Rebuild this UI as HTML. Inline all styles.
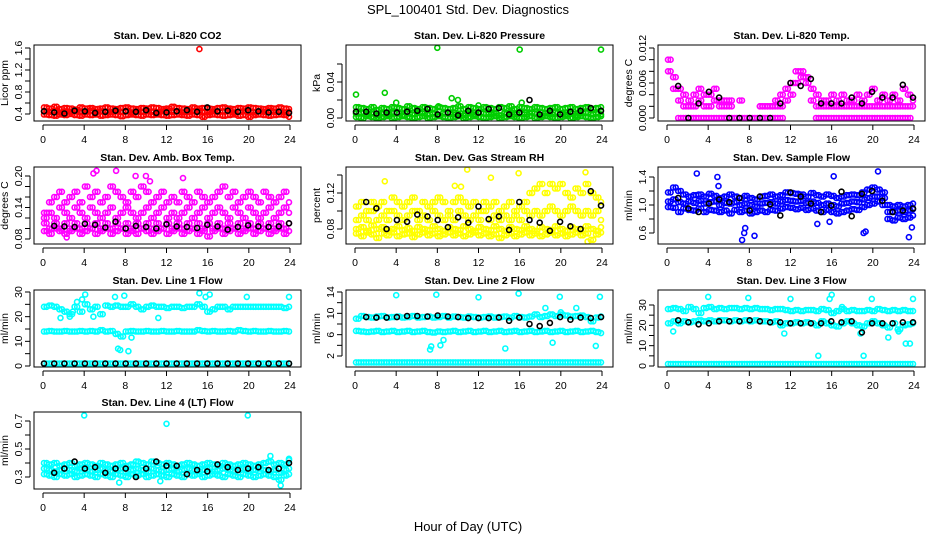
<!DOCTYPE html>
<html><head><meta charset="utf-8"><style>
html,body{margin:0;padding:0;background:#fff}
svg{display:block;font-family:"Liberation Sans",sans-serif}
</style></head><body>
<svg id="chart" width="936" height="540" viewBox="0 0 936 540" xmlns="http://www.w3.org/2000/svg">
<rect x="0" y="0" width="936" height="540" fill="#fff"/>
<text x="468" y="14" text-anchor="middle" font-size="13">SPL_100401  Std. Dev. Diagnostics</text>
<text x="468" y="531" text-anchor="middle" font-size="13">Hour of Day (UTC)</text>
</svg>
<script>
// ---------- data ----------
const xTicks = [0,4,8,12,16,20,24];
// CO2 (ppm)
const co2RedA = [0.52,0.50,0.53,0.49,0.51,0.50,0.48,0.52,0.50,0.51,0.49,0.50,0.52,0.50,0.49,0.51,0.52,0.50,0.49,0.51,0.50,0.52,0.51,0.49,0.50,0.53,0.51,0.50,0.49,0.52,0.50,0.51,0.50,0.49,0.51,0.52,0.50,0.49,0.51,0.50,0.52,0.51,0.50,0.49,0.51,0.50,0.52,0.50,0.49];
const co2RedB = [0.45,0.44,0.46,0.43,0.45,0.44,0.45,0.43,0.44,0.46,0.44,0.45,0.43,0.44,0.45,0.44,0.46,0.43,0.45,0.44,0.45,0.44,0.43,0.45,0.46,0.44,0.45,0.43,0.44,0.45,0.46,0.44,0.43,0.45,0.44,0.45,0.46,0.43,0.44,0.45,0.44,0.43,0.45,0.44,0.46,0.44,0.45,0.43,0.44];
const co2RedC = [0.39,0.38,0.37,0.39,0.38,0.40,0.38,0.37,0.39,0.38,0.39,0.37,0.38,0.39,0.38,0.36,0.38,0.39,0.38,0.37,0.39,0.38,0.39,0.38,0.37,0.38,0.39,0.38,0.37,0.39,0.38,0.35,0.38,0.39,0.38,0.37,0.38,0.39,0.37,0.38,0.35,0.38,0.39,0.38,0.37,0.38,0.39,0.38,0.35];
const co2Black = [0.45,0.43,0.41,0.46,0.45,0.42,0.44,0.46,0.45,0.44,0.47,0.42,0.43,0.45,0.47,0.44,0.52,0.45,0.46,0.44,0.47,0.45,0.43,0.44,0.42];
const co2OutHours = [15.2];
const co2OutVals = [1.58];
// Pressure (kPa)
const presGreenA = [0.012,0.011,0.010,0.012,0.009,0.011,0.010,0.012,0.011,0.010,0.013,0.011,0.010,0.012,0.011,0.010,0.012,0.011,0.010,0.011,0.013,0.010,0.012,0.011,0.010,0.012,0.011,0.010,0.012,0.011,0.013,0.010,0.012,0.011,0.010,0.012,0.011,0.010,0.011,0.012,0.010,0.011,0.012,0.010,0.011,0.012,0.010,0.011,0.012];
const presGreenB = [0.005,0.006,0.004,0.005,0.003,0.005,0.004,0.006,0.005,0.003,0.005,0.004,0.006,0.005,0.004,0.005,0.003,0.005,0.006,0.004,0.005,0.003,0.005,0.004,0.006,0.005,0.004,0.005,0.003,0.005,0.006,0.004,0.005,0.004,0.006,0.005,0.003,0.005,0.004,0.006,0.005,0.004,0.005,0.003,0.005,0.006,0.004,0.005,0.004];
const presGreenC = [0.001,0.000,0.002,0.001,0.000,0.001,0.002,0.000,0.001,0.002,0.001,0.000,0.001,0.002,0.000,0.001,0.002,0.001,0.000,0.001,0.002,0.000,0.001,0.002,0.001,0.000,0.001,0.002,0.000,0.001,0.002,0.001,0.000,0.001,0.002,0.000,0.001,0.002,0.001,0.000,0.001,0.002,0.000,0.001,0.002,0.001,0.000,0.001,0.002];
const presOutHours = [0.1,2.9,4.0,8.0,8.1,9.4,10.0,12.0,16.0,16.2,23.9];
const presOutVals = [0.026,0.028,0.017,0.078,0.013,0.022,0.020,0.014,0.076,0.017,0.076];
const presBlack = [0.007,0.007,0.005,0.006,0.006,0.007,0.008,0.010,0.004,0.006,0.003,0.008,0.006,0.010,0.011,0.004,0.006,0.020,0.004,0.008,0.004,0.007,0.008,0.011,0.008];
// Li-820 Temp (deg C)
const tempMagA = [0.010,0.007,0.005,0.004,0.003,0.004,0.005,0.004,0.004,0.005,0.003,0.003,0.003,null,0.003,null,null,null,0.002,0.002,0.002,0.003,0.004,0.005,0.006,0.008,0.008,0.007,0.005,0.004,0.003,0.003,0.004,0.003,0.004,0.003,0.003,0.004,0.003,0.004,0.005,0.003,0.004,0.003,0.004,0.003,0.005,0.004,0.003];
const tempMagB = [0.008,0.005,0.003,0.002,0.002,0.002,0.003,0.002,0.002,0.003,0.002,0.002,0.002,null,null,null,null,null,0.002,0.002,0.002,0.002,0.002,0.003,0.004,0.006,0.007,0.006,0.003,0.002,0.002,0.002,0.002,0.002,0.002,0.002,0.002,0.002,0.002,0.002,0.002,0.002,0.002,0.002,0.002,0.002,0.002,0.002,0.002];
const tempMagZ = [null,null,0,0,0,0,0,0,0,0,0,0,0,0,0,0,0,0,0,0,0,0,0,null,null,null,null,null,null,0,0,0,0,0,0,0,0,0,0,0,0,0,0,0,0,0,0,0,null];
const tempBlack = [null,0.0055,0,0.0025,0.0045,0.0035,0,0,0,0,0,0.0025,0.006,0.0055,0.0067,0.0025,0.0025,0.0025,0.0035,0.0025,0.0045,0.0035,0.0035,0.0057,0.0035];
// Amb. Box Temp (deg C)
const ambMagA = [0.13,0.15,0.16,0.17,0.15,0.16,0.17,0.15,0.18,0.16,0.17,0.15,0.16,0.18,0.17,0.16,0.15,0.17,0.16,0.18,0.17,0.15,0.16,0.17,0.15,0.16,0.15,0.17,0.16,0.15,0.17,0.16,0.15,0.16,0.17,0.18,0.16,0.17,0.15,0.16,0.17,0.16,0.15,0.17,0.16,0.15,0.16,0.17,0.15];
const ambMagB = [0.12,0.13,0.12,0.14,0.13,0.12,0.14,0.13,0.12,0.14,0.13,0.12,0.13,0.14,0.12,0.13,0.14,0.13,0.12,0.13,0.14,0.12,0.13,0.14,0.12,0.13,0.12,0.13,0.14,0.12,0.13,0.14,0.12,0.13,0.14,0.13,0.12,0.14,0.13,0.12,0.14,0.13,0.12,0.13,0.14,0.12,0.13,0.14,0.13];
const ambMagC = [0.11,0.10,0.11,0.10,0.11,0.10,0.11,0.10,0.11,0.10,0.11,0.10,0.11,0.10,0.11,0.10,0.11,0.10,0.11,0.10,0.11,0.10,0.11,0.10,0.11,0.10,0.11,0.10,0.11,0.10,0.11,0.10,0.11,0.10,0.11,0.10,0.11,0.10,0.11,0.10,0.11,0.10,0.11,0.10,0.11,0.10,0.11,0.10,0.11];
const ambMagD = [0.095,0.09,0.10,0.095,0.09,0.095,0.10,0.09,0.095,0.10,0.09,0.095,0.10,0.09,0.095,0.10,0.09,0.095,0.09,0.10,0.095,0.09,0.095,0.10,0.09,0.095,0.10,0.09,0.095,0.10,0.09,0.095,0.085,0.095,0.10,0.09,0.095,0.10,0.09,0.095,0.10,0.09,0.095,0.10,0.09,0.095,0.10,0.09,0.095];
const ambOutHours = [4.9,5.2,7.1,9.0,10.0,10.4,13.6,2.3];
const ambOutVals = [0.205,0.21,0.21,0.20,0.20,0.19,0.196,0.083];
const ambBlack = [null,0.105,0.104,0.103,0.109,0.107,0.102,0.113,0.100,0.105,0.103,0.100,0.108,0.104,0.103,0.101,0.107,0.104,0.098,0.103,0.106,0.104,0.103,0.104,0.110];
// Gas Stream RH (percent)
const rhYelA = [0.105,0.11,0.10,0.11,0.105,0.11,0.10,0.115,0.11,0.105,0.11,0.115,0.10,0.11,0.105,0.11,0.115,0.11,0.10,0.11,0.115,0.11,0.105,0.11,0.10,0.11,0.105,0.11,0.10,0.105,0.11,0.10,0.105,0.11,0.12,0.125,0.13,0.12,0.13,0.125,0.13,0.12,0.115,0.125,0.12,0.13,0.12,0.115,0.11];
const rhYelB = [0.09,0.095,0.09,0.10,0.09,0.095,0.09,0.10,0.095,0.09,0.095,0.10,0.09,0.095,0.09,0.10,0.095,0.09,0.095,0.09,0.10,0.095,0.09,0.095,0.09,0.10,0.09,0.095,0.09,0.095,0.09,0.095,0.09,0.10,0.095,0.10,0.095,0.10,0.105,0.10,0.095,0.10,0.105,0.10,0.095,0.10,0.095,0.10,0.09];
const rhYelC = [0.08,0.082,0.078,0.084,0.08,0.082,0.078,0.08,0.083,0.079,0.081,0.078,0.082,0.08,0.079,0.083,0.08,0.078,0.082,0.08,0.079,0.083,0.08,0.078,0.082,0.08,0.079,0.083,0.08,0.078,0.082,0.08,0.079,0.083,0.08,0.078,0.082,0.08,0.079,0.083,0.08,0.078,0.082,0.08,0.079,0.083,0.08,0.078,0.082];
const rhYelD = [0.075,0.072,0.076,0.074,0.07,0.075,0.073,0.076,0.072,0.074,0.075,0.071,0.074,0.076,0.073,0.075,0.072,0.074,0.076,0.073,0.075,0.072,0.074,0.076,0.073,0.075,0.072,0.074,0.07,0.073,0.075,0.072,0.074,0.076,0.073,0.075,0.072,0.074,0.076,0.073,0.075,0.072,0.074,0.076,0.073,0.075,0.068,0.074,0.076];
const rhOutHours = [2.9,9.7,10.3,10.9,13.2,15.9,22.4,22.6];
const rhOutVals = [0.133,0.128,0.127,0.146,0.137,0.142,0.143,0.066];
const rhBlack = [null,0.11,0.103,0.08,0.09,0.088,0.096,0.094,0.09,0.082,0.093,0.087,0.105,0.091,0.094,0.079,0.11,0.09,0.087,0.078,0.088,0.083,0.08,0.122,0.106];
// Sample Flow (l/min)
const sfBlueA = [1.18,1.25,1.2,1.15,1.12,1.14,1.15,1.12,1.16,1.13,1.1,1.12,1.15,1.12,1.1,1.13,1.1,1.08,1.12,1.13,1.15,1.12,1.14,1.18,1.17,1.16,1.15,1.12,1.17,1.14,1.12,1.15,1.13,1.1,1.12,1.14,1.15,1.14,1.18,1.22,1.25,1.22,1.18,1.0,0.98,1.0,0.98,1.0,1.02];
const sfBlueB = [1.05,1.08,1.04,1.02,1.05,1.03,1.06,1.02,1.04,1.05,1.0,1.03,1.02,1.04,1.0,1.02,1.0,0.98,1.02,1.03,1.04,1.02,1.05,1.07,1.06,1.05,1.06,1.03,1.05,1.03,1.0,1.02,1.0,0.98,1.02,1.03,1.05,1.04,1.08,1.1,1.12,1.12,1.1,0.9,0.9,0.92,0.9,0.92,0.94];
const sfBlueC = [0.97,0.96,0.9,0.95,0.93,0.92,0.95,0.9,0.93,0.92,0.9,0.92,0.88,0.93,0.9,0.92,0.88,0.9,0.92,0.9,0.93,0.92,0.95,0.97,0.96,0.94,0.96,0.93,0.95,0.92,0.9,0.93,0.9,0.88,0.9,0.92,0.94,0.93,0.97,1.0,1.02,1.05,1.0,0.8,0.78,0.82,0.8,0.82,0.85];
const sfOutHours = [2.9,4.9,5.0,7.3,7.5,7.6,8.5,14.6,15.8,16.2,19.1,19.3,20.5,23.5,23.8];
const sfOutVals = [1.45,1.4,1.27,0.5,0.6,0.67,0.56,0.73,0.76,1.41,0.6,0.62,1.48,0.54,0.68];
const sfBlack = [null,1.1,0.95,0.9,1.02,1.08,1.04,1.1,0.92,1.12,1.01,0.85,1.18,1.12,1.02,0.9,0.99,1.19,0.84,1.16,1.2,1.06,0.9,0.92,0.95];
// Line 1 Flow (l/min)
const l1CyanA = [24,24.5,24,23,22,21,24,22,25,23,24,21,24.5,24,24.5,24,24,25,24,23,24,24.5,24,24,23.5,24,24,23.5,24,24,25,24,22,23,24,24,23,24,24,24,24,24,24,24,24,24,24,23.5,24];
const l1CyanB = [14,14.2,14,14,14.2,14,14,14.2,14,14.2,14,14.5,14,14.2,13,12,14,14.2,14,14,14.2,14,14,14.2,14,14,14.2,14,14,14,14.5,14.2,14,14.2,14,14,14.2,14,14.5,14.2,14,14.2,14,14,14.2,14,14,14.2,14];
const l1CyanC = [1,1,1,1,1,1,1,1,1,1,1,1,1,1,1,1,1,1,1,1,1,1,1,1,1,1,1,1,1,1,1,1,1,1,1,1,1,1,1,1,1,1,1,1,1,1,1,1,1];
const l1OutHours = [1.7,2.6,3.3,3.8,4.1,7.0,7.3,7.5,7.9,8.3,8.6,11.2,15.2,15.8,16.2,19.8,23.9,4.9,2.9];
const l1OutVals = [19.5,20,26,27,29,28,7,6.5,28.5,6,11.5,19.5,29.5,28,29,28,28,20,22];
const l1Black = [1,1,1,1,1,1,1,1,1,1,1,1,1,1,1,1,1,1,1,1,1,1,1,1,1];
// Line 2 Flow (l/min)
const l2CyanA = [9,9.5,9.3,9.2,9.4,9.5,9.2,9.3,9.4,9.2,9.3,9.5,9.2,9.3,9.4,9.2,9.3,9.5,9.2,9.4,9.3,9.2,9.4,9.3,9.2,9.3,9.4,9.2,9.3,9.4,9.2,9.5,9.3,9.2,9.4,9.8,9.3,9.5,9.8,9.5,9.8,9.6,9.4,9.5,9.6,9.3,8.5,9.2,9.4];
const l2CyanB = [6.7,6.6,6.5,6.6,6.7,6.5,6.6,6.7,6.5,6.6,6.7,6.5,6.6,6.7,6.5,6.4,6.6,6.5,6.6,6.7,6.5,6.6,6.7,6.5,6.6,6.7,6.5,6.6,6.7,6.5,6.6,6.7,6.5,6.6,6.7,6.5,6.6,6.7,6.5,6.6,6.7,6.5,6.6,6.7,6.5,6.6,6.7,6.5,6.3];
const l2CyanC = [0.8,0.8,0.8,0.8,0.8,0.8,0.8,0.8,0.8,0.8,0.8,0.8,0.8,0.8,0.8,0.8,0.8,0.8,0.8,0.8,0.8,0.8,0.8,0.8,0.8,0.8,0.8,0.8,0.8,0.8,0.8,0.8,0.8,0.8,0.8,0.8,0.8,0.8,0.8,0.8,0.8,0.8,0.8,0.8,0.8,0.8,0.8,0.8,0.8];
const l2OutHours = [4.0,7.9,7.3,7.4,8.3,8.6,12.0,14.6,15.9,18.5,19.9,19.2,20.0,21.5,23.4,23.8];
const l2OutVals = [13.4,13.5,3.2,3.8,4,5,13,3.4,13.7,11,13.1,4.5,10.2,11,3.9,13.1];
const l2Black = [null,9.3,9.2,9.2,9.3,9.5,9.5,9.4,9.6,9.4,9.3,9.1,9.1,9.1,9.2,8.6,9.2,8.0,7.6,8.2,9.3,8.8,9.2,9.1,9.3];
// Line 3 Flow (l/min)
const l3CyanA = [28,28.5,28,27,29,28,26,28.5,29,28,28.5,28,28.5,28.5,28,28.5,28,28.5,28,28,27.5,28,28,27.5,27,27.5,27,27.5,27.5,27,28,27.5,26,27,28,27,27.5,27,27,27.5,27,28,27.5,27,27.5,27,27.5,27,27];
const l3CyanB = [21,22,21,22,21.5,22,22.5,22,22.5,22,22.5,22.5,22,22.5,22,22.5,22,22.5,22,22,21.5,22,20,21,21,21.5,21,21.5,21,20,22,21,20,19.5,21,22,21,20,19.5,21,22,21,20,19,21,18,20,20.5,21];
const l3CyanC = [1,1,1,1,1,1,1,1,1,1,1,1,1,1,1,1,1,1,1,1,1,1,1,1,1,1,1,1,1,1,1,1,1,1,1,1,1,1,1,1,1,1,1,1,1,1,1,1,1];
const l3OutHours = [0.6,4.0,7.9,12.0,14.7,15.8,16.0,17.0,18.8,19.1,19.9,21.5,22.5,23.2,23.6,23.9,11.4];
const l3OutVals = [17,34,33.5,33,5,33,35,29,16,5,33,14,17,11,11,33,16];
const l3Black = [null,22.5,21.5,20.5,21,22,22,22,22.5,22,21.5,21.5,21,21,21,21,22,21.5,22,16.5,21,21,21,21.5,21.5];
// Line 4 (LT) Flow (l/min)
const l4CyanA = [0.40,0.39,0.40,0.38,0.39,0.40,0.38,0.39,0.40,0.39,0.38,0.40,0.39,0.38,0.39,0.40,0.38,0.39,0.41,0.40,0.39,0.41,0.40,0.39,0.40,0.39,0.38,0.39,0.40,0.39,0.38,0.39,0.40,0.39,0.38,0.40,0.39,0.38,0.39,0.40,0.39,0.38,0.39,0.40,0.41,0.39,0.40,0.39,0.42];
const l4CyanB = [0.36,0.35,0.34,0.35,0.36,0.35,0.34,0.36,0.35,0.34,0.35,0.36,0.35,0.34,0.35,0.36,0.34,0.35,0.36,0.35,0.34,0.36,0.35,0.34,0.35,0.36,0.34,0.35,0.36,0.35,0.34,0.35,0.36,0.34,0.35,0.36,0.35,0.34,0.35,0.36,0.34,0.35,0.36,0.35,0.34,0.35,0.33,0.35,0.36];
const l4CyanC = [0.32,0.31,0.30,0.32,0.31,0.32,0.30,0.31,0.32,0.31,0.30,0.32,0.31,0.30,0.32,0.31,0.30,0.32,0.31,0.32,0.30,0.31,0.32,0.31,0.30,0.32,0.31,0.30,0.32,0.31,0.32,0.30,0.31,0.32,0.31,0.30,0.32,0.31,0.30,0.32,0.31,0.30,0.31,0.32,0.31,0.30,0.28,0.31,0.32];
const l4OutHours = [4.0,12.0,19.9,22.1,23.1,11.4,7.4,23.9];
const l4OutVals = [0.74,0.68,0.74,0.45,0.24,0.27,0.26,0.43];
const l4Black = [null,0.33,0.36,0.41,0.36,0.37,0.33,0.36,0.36,0.3,0.36,0.41,0.38,0.38,0.32,0.35,0.34,0.39,0.37,0.35,0.36,0.37,0.35,0.36,0.40];

// ---------- panel definitions ----------
const panels = [
 {name:'co2',title:'Stan. Dev. Li-820 CO2',ylab:'Licor ppm',col:0,row:0,yA:[0.4,114],yB:[1.6,48],ticks:[0.4,0.6,0.8,1.0,1.2,1.4,1.6],labels:['0.4','','0.8','','1.2','','1.6'],
  series:[['#ff0000',co2RedA],['#ff0000',co2RedB],['#ff0000',co2RedC],['#000000',co2Black]],out:['#ff0000',co2OutHours,co2OutVals]},
 {name:'pressure',title:'Stan. Dev. Li-820 Pressure',ylab:'kPa',col:1,row:0,yA:[0,118],yB:[0.04,82],ticks:[0,0.02,0.04,0.06],labels:['0.00','','0.04',''],
  series:[['#00cd00',presGreenA],['#00cd00',presGreenB],['#00cd00',presGreenC],['#000000',presBlack]],out:['#00cd00',presOutHours,presOutVals]},
 {name:'li820-temp',title:'Stan. Dev. Li-820 Temp.',ylab:'degrees C',col:2,row:0,yA:[0,118],yB:[0.012,48],ticks:[0,0.002,0.004,0.006,0.008,0.010,0.012],labels:['0.000','','','0.006','','','0.012'],
  series:[['#ff00ff',tempMagA],['#ff00ff',tempMagB],['#ff00ff',tempMagZ],['#000000',tempBlack]],out:null},
 {name:'amb-box-temp',title:'Stan. Dev. Amb. Box Temp.',ylab:'degrees C',col:0,row:1,yA:[0.08,239],yB:[0.20,176],ticks:[0.08,0.10,0.12,0.14,0.16,0.18,0.20],labels:['0.08','','','0.14','','','0.20'],
  series:[['#ff00ff',ambMagA],['#ff00ff',ambMagB],['#ff00ff',ambMagC],['#ff00ff',ambMagD],['#000000',ambBlack]],out:['#ff00ff',ambOutHours,ambOutVals]},
 {name:'gas-stream-rh',title:'Stan. Dev. Gas Stream RH',ylab:'percent',col:1,row:1,yA:[0.08,229],yB:[0.12,193],ticks:[0.08,0.10,0.12,0.14],labels:['0.08','','0.12',''],
  series:[['#ffff00',rhYelA],['#ffff00',rhYelB],['#ffff00',rhYelC],['#ffff00',rhYelD],['#000000',rhBlack]],out:['#ffff00',rhOutHours,rhOutVals]},
 {name:'sample-flow',title:'Stan. Dev. Sample Flow',ylab:'ml/min',col:2,row:1,yA:[0.6,233],yB:[1.4,177],ticks:[0.6,0.8,1.0,1.2,1.4],labels:['0.6','','1.0','','1.4'],
  series:[['#0000ff',sfBlueA],['#0000ff',sfBlueB],['#0000ff',sfBlueC],['#000000',sfBlack]],out:['#0000ff',sfOutHours,sfOutVals]},
 {name:'line1-flow',title:'Stan. Dev. Line 1 Flow',ylab:'ml/min',col:0,row:2,yA:[0,366],yB:[30,292],ticks:[0,5,10,15,20,25,30],labels:['0','','10','','20','','30'],
  series:[['#00ffff',l1CyanA],['#00ffff',l1CyanB],['#00ffff',l1CyanC],['#000000',l1Black]],out:['#00ffff',l1OutHours,l1OutVals]},
 {name:'line2-flow',title:'Stan. Dev. Line 2 Flow',ylab:'ml/min',col:1,row:2,yA:[2,356],yB:[14,292],ticks:[2,4,6,8,10,12,14],labels:['2','','6','','10','','14'],
  series:[['#00ffff',l2CyanA],['#00ffff',l2CyanB],['#00ffff',l2CyanC],['#000000',l2Black]],out:['#00ffff',l2OutHours,l2OutVals]},
 {name:'line3-flow',title:'Stan. Dev. Line 3 Flow',ylab:'ml/min',col:2,row:2,yA:[0,366],yB:[30,305],ticks:[0,5,10,15,20,25,30],labels:['0','','10','','20','','30'],
  series:[['#00ffff',l3CyanA],['#00ffff',l3CyanB],['#00ffff',l3CyanC],['#000000',l3Black]],out:['#00ffff',l3OutHours,l3OutVals]},
 {name:'line4-flow',title:'Stan. Dev. Line 4 (LT) Flow',ylab:'ml/min',col:0,row:3,yA:[0.3,477],yB:[0.7,421],ticks:[0.3,0.4,0.5,0.6,0.7],labels:['0.3','','0.5','','0.7'],
  series:[['#00ffff',l4CyanA],['#00ffff',l4CyanB],['#00ffff',l4CyanC],['#000000',l4Black]],out:['#00ffff',l4OutHours,l4OutVals]}
];

const NS='http://www.w3.org/2000/svg';
const svg=document.getElementById('chart');
function mk(tag,attrs,parent){const e=document.createElementNS(NS,tag);for(const k in attrs)e.setAttribute(k,attrs[k]);(parent||svg).appendChild(e);return e;}
const boxTop=[45,167,290,412], boxH=[76,77,77,77];
const colLeft=[34,346,658], boxW=267;
const x0=[43,355,667], xw=247;

panels.forEach(p=>{
  const g=mk('g',{});
  
  
  const L=colLeft[p.col], T=boxTop[p.row], H=boxH[p.row];
  const xs=h=>x0[p.col]+h/24*xw;
  const ys=v=>p.yA[1]+(v-p.yA[0])*(p.yB[1]-p.yA[1])/(p.yB[0]-p.yA[0]);
  const clip='clip-'+p.name;
  const cp=mk('clipPath',{id:clip},g);mk('rect',{x:L,y:T,width:boxW,height:H},cp);
  const title=mk('text',{x:L+boxW/2,y:T-6,'text-anchor':'middle','font-size':'10.5','font-weight':'bold'},g);
  title.textContent=p.title;
  
  
  const pts=mk('g',{'clip-path':'url(#'+clip+')'},g);
  
  
  const dot=(h,v,c)=>{if(v===null||v===undefined)return;const d=mk('circle',{cx:xs(h).toFixed(1),cy:ys(v).toFixed(1),r:2.5,fill:'none',stroke:c,'stroke-width':1.6},pts);
    
    };
  p.series.forEach(s=>{if(s[0]==='#000000')return;const vals=s[1],n=vals.length;const step=23.8/(n-1);
    vals.forEach((v,i)=>{dot(0.1+i*step,v,s[0]);if(i<n-1)dot(0.1+(i+0.5)*step,v,s[0]);});});
  if(p.out){p.out[1].forEach((h,i)=>dot(h,p.out[2][i],p.out[0]));}
  const blk=p.series.find(s=>s[0]==='#000000');
  if(blk){const n=blk[1].length;blk[1].forEach((v,i)=>dot(0.1+i*23.8/(n-1),v,'#000000'));}
  const box=mk('rect',{x:L,y:T,width:boxW,height:H,fill:'none',stroke:'#000','stroke-width':1},g);
  
  
  const B=T+H;
  const xa=mk('g',{},g);
  
  
  mk('line',{x1:xs(0),x2:xs(24),y1:B+4,y2:B+4,stroke:'#000'},xa);
  xTicks.forEach(t=>{mk('line',{x1:xs(t),x2:xs(t),y1:B+4,y2:B+9,stroke:'#000'},xa);
    const tl=mk('text',{x:xs(t),y:B+22,'text-anchor':'middle','font-size':'10.5'},xa);tl.textContent=t;});
  const ya=mk('g',{},g);
  
  
  const tv=p.ticks;
  mk('line',{x1:L-4,x2:L-4,y1:ys(tv[0]),y2:ys(tv[tv.length-1]),stroke:'#000'},ya);
  tv.forEach((t,i)=>{const y=ys(t);mk('line',{x1:L-9,x2:L-4,y1:y,y2:y,stroke:'#000'},ya);
    if(p.labels[i]){const tl=mk('text',{x:L-12,y:y,'text-anchor':'middle','font-size':'10.5',transform:'rotate(-90 '+(L-12)+' '+y+')'},ya);tl.textContent=p.labels[i];}});
  const yl=mk('text',{x:L-26,y:T+H/2,'text-anchor':'middle','font-size':'10.5',transform:'rotate(-90 '+(L-26)+' '+(T+H/2)+')'},g);
  yl.textContent=p.ylab;
  
  
});
</script>
</body></html>
